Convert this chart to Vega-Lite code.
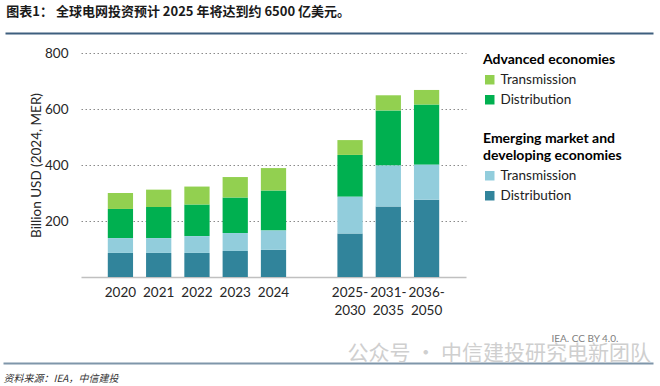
{
  "$schema": "https://vega.github.io/schema/vega-lite/v6.json",
  "padding": {"left": 0, "right": 5, "top": 5, "bottom": 2},
  "background": "white",
  "title": {"text": "图表1：  全球电网投资预计 2025 年将达到约 6500 亿美元。", "anchor": "start", "dx": 6, "font": "Noto Sans CJK SC", "fontSize": 13, "fontWeight": "bold", "color": "#1a1a1a", "offset": 11},
  "datasets": {
    "one": [{"k": 0}],
    "bars": [
      {"period": "2020", "group": "EMDE", "series": "Distribution", "value": 86, "ord": 1},
      {"period": "2020", "group": "EMDE", "series": "Transmission", "value": 53, "ord": 2},
      {"period": "2020", "group": "AE", "series": "Distribution", "value": 104, "ord": 3},
      {"period": "2020", "group": "AE", "series": "Transmission", "value": 57, "ord": 4},
      {"period": "2021", "group": "EMDE", "series": "Distribution", "value": 86, "ord": 1},
      {"period": "2021", "group": "EMDE", "series": "Transmission", "value": 53, "ord": 2},
      {"period": "2021", "group": "AE", "series": "Distribution", "value": 111, "ord": 3},
      {"period": "2021", "group": "AE", "series": "Transmission", "value": 62, "ord": 4},
      {"period": "2022", "group": "EMDE", "series": "Distribution", "value": 86, "ord": 1},
      {"period": "2022", "group": "EMDE", "series": "Transmission", "value": 60, "ord": 2},
      {"period": "2022", "group": "AE", "series": "Distribution", "value": 113, "ord": 3},
      {"period": "2022", "group": "AE", "series": "Transmission", "value": 64, "ord": 4},
      {"period": "2023", "group": "EMDE", "series": "Distribution", "value": 93, "ord": 1},
      {"period": "2023", "group": "EMDE", "series": "Transmission", "value": 64, "ord": 2},
      {"period": "2023", "group": "AE", "series": "Distribution", "value": 127, "ord": 3},
      {"period": "2023", "group": "AE", "series": "Transmission", "value": 73, "ord": 4},
      {"period": "2024", "group": "EMDE", "series": "Distribution", "value": 97, "ord": 1},
      {"period": "2024", "group": "EMDE", "series": "Transmission", "value": 69, "ord": 2},
      {"period": "2024", "group": "AE", "series": "Distribution", "value": 143, "ord": 3},
      {"period": "2024", "group": "AE", "series": "Transmission", "value": 80, "ord": 4},
      {"period": "2025-2030", "group": "EMDE", "series": "Distribution", "value": 155, "ord": 1},
      {"period": "2025-2030", "group": "EMDE", "series": "Transmission", "value": 132, "ord": 2},
      {"period": "2025-2030", "group": "AE", "series": "Distribution", "value": 149, "ord": 3},
      {"period": "2025-2030", "group": "AE", "series": "Transmission", "value": 53, "ord": 4},
      {"period": "2031-2035", "group": "EMDE", "series": "Distribution", "value": 252, "ord": 1},
      {"period": "2031-2035", "group": "EMDE", "series": "Transmission", "value": 146, "ord": 2},
      {"period": "2031-2035", "group": "AE", "series": "Distribution", "value": 197, "ord": 3},
      {"period": "2031-2035", "group": "AE", "series": "Transmission", "value": 54, "ord": 4},
      {"period": "2036-2050", "group": "EMDE", "series": "Distribution", "value": 276, "ord": 1},
      {"period": "2036-2050", "group": "EMDE", "series": "Transmission", "value": 125, "ord": 2},
      {"period": "2036-2050", "group": "AE", "series": "Distribution", "value": 215, "ord": 3},
      {"period": "2036-2050", "group": "AE", "series": "Transmission", "value": 52, "ord": 4}
    ]
  },
  "spacing": 10,
  "vconcat": [
    {
      "width": 570,
      "height": 1,
      "data": {"name": "one"},
      "mark": {"type": "point", "opacity": 0},
      "encoding": {
        "x": {"field": "k", "type": "quantitative", "scale": {"domain": [0, 1], "range": [-76, 572]},
          "axis": {"domainColor": "#3e5f7e", "domainWidth": 2, "labels": false, "ticks": false, "grid": false, "title": null}}
      }
    },
    {
      "width": 385,
      "height": 224,
      "data": {"name": "bars"},
      "transform": [
        {"stack": "value", "groupby": ["period"], "sort": [{"field": "ord", "order": "ascending"}], "as": ["v0", "v1"]}
      ],
      "encoding": {
        "x": {"field": "period", "type": "nominal", "title": null,
          "scale": {"domain": ["2020", "2021", "2022", "2023", "2024", "gap", "2025-2030", "2031-2035", "2036-2050"], "paddingInner": 0.34, "paddingOuter": 0.7},
          "axis": {"labelAngle": 0, "labelFont": "Lato", "labelFontSize": 13.5, "labelColor": "#262626", "labelPadding": 8, "labelLineHeight": 18, "ticks": false, "domainColor": "#c0c0c0", "domainWidth": 1.5, "grid": false,
            "labelExpr": "datum.value == 'gap' ? '' : (length(datum.value) > 4 ? [slice(datum.value, 0, 5), slice(datum.value, 5)] : datum.value)"}},
        "y": {"field": "v0", "type": "quantitative",
          "scale": {"domain": [0, 800], "nice": false},
          "axis": {"title": ["", "Billion USD (2024, MER)"], "titleFont": "Lato", "titleFontSize": 13.5, "titleFontWeight": "normal", "titleColor": "#262626", "titleLineHeight": 20, "titlePadding": 1,
            "values": [200, 400, 600, 800], "labelFont": "Lato", "labelFontSize": 13.5, "labelColor": "#262626", "labelPadding": 13, "ticks": false, "domain": false,
            "grid": true, "gridColor": "#8a8a8a", "gridDash": [1.5, 2.5], "gridWidth": 1}},
        "y2": {"field": "v1"}
      },
      "layer": [
        {
          "transform": [{"filter": "datum.group == 'AE'"}],
          "mark": {"type": "bar"},
          "encoding": {
            "color": {"field": "series", "type": "nominal",
              "scale": {"domain": ["Transmission", "Distribution"], "range": ["#92d050", "#00b050"]},
              "legend": {"title": "Advanced economies"}}
          }
        },
        {
          "transform": [{"filter": "datum.group == 'EMDE'"}],
          "mark": {"type": "bar"},
          "encoding": {
            "color": {"field": "series", "type": "nominal",
              "scale": {"domain": ["Transmission", "Distribution"], "range": ["#92cddc", "#31849b"]},
              "legend": {"title": ["", "Emerging market and", "developing economies"]}}
          }
        }
      ],
      "resolve": {"scale": {"color": "independent"}}
    },
    {
      "width": 570,
      "height": 1,
      "data": {"name": "one"},
      "title": {"text": ["", "公众号 · 中信建投研究电新团队"], "lineHeight": 16, "anchor": "end", "frame": "group", "font": "Noto Sans CJK SC", "fontSize": 21, "fontWeight": "normal", "color": "#cfcfcf", "offset": -31},
      "mark": {"type": "point", "opacity": 0},
      "encoding": {
        "x": {"field": "k", "type": "quantitative", "scale": {"domain": [0, 1], "range": [-78, 572]},
          "axis": {"orient": "bottom", "domainColor": "#7f96aa", "domainWidth": 2, "ticks": false, "grid": false,
            "values": [0.946], "labelExpr": "'IEA. CC BY 4.0.'", "labelAlign": "right", "labelFlush": false, "labelOverlap": false, "labelPadding": -30, "labelFont": "Lato", "labelFontSize": 10, "labelColor": "#808080",
            "title": "资料来源：IEA，中信建投", "titleFont": "Noto Sans CJK SC", "titleFontSize": 10, "titleFontStyle": "italic", "titleFontWeight": "normal", "titleColor": "#333333", "titleAnchor": "start", "titlePadding": 10}}
      }
    }
  ],
  "config": {
    "font": "Lato",
    "view": {"stroke": null},
    "legend": {"titleFont": "Lato", "titleFontSize": 14, "titleFontWeight": "bold", "titleColor": "#000000", "titleLineHeight": 17, "titlePadding": 6, "titleLimit": 300,
      "labelFont": "Lato", "labelFontSize": 13.5, "labelColor": "#222222", "labelLimit": 300,
      "symbolType": "square", "symbolSize": 90, "symbolStrokeWidth": 0, "rowPadding": 5, "offset": 17}
  }
}
